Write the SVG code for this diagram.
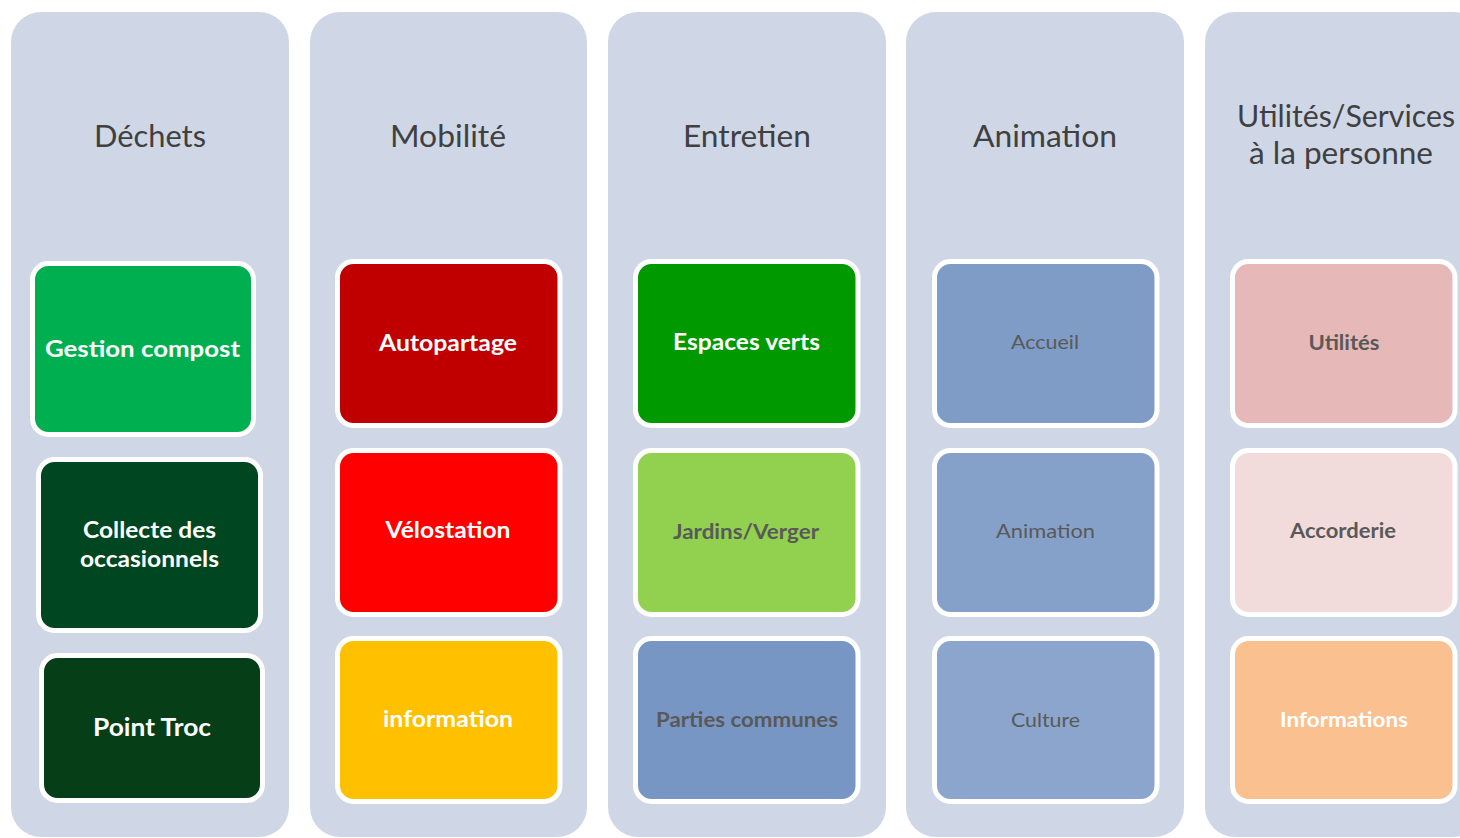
<svg xmlns="http://www.w3.org/2000/svg" width="1460" height="838" viewBox="0 0 1460 838">
<style>
.col{fill:#CFD7E7}
.box{stroke:#FFFFFF;stroke-width:5}
.hd{font-family:Lato,"Open Sans","Liberation Sans",sans-serif;font-size:31px;fill:#404040;text-anchor:middle}
.lb{font-family:Lato,"Open Sans","Liberation Sans",sans-serif;font-weight:bold;text-anchor:middle}
.lr{font-family:Lato,"Open Sans","Liberation Sans",sans-serif;font-weight:normal;text-anchor:middle;fill:#595959}
.w{fill:#FFFFFF}
.g{fill:#595959}
</style>
<rect width="1460" height="838" fill="#FFFFFF"/>
<g id="columns">
<g id="col-dechets"><rect class="col" x="11" y="12" width="278" height="825" rx="30"/><text class="hd" x="150" y="147" textLength="112" lengthAdjust="spacingAndGlyphs">Déchets</text></g>
<g id="col-mobilite"><rect class="col" x="310" y="12" width="277" height="825" rx="30"/><text class="hd" x="448" y="147" textLength="116" lengthAdjust="spacingAndGlyphs">Mobilité</text></g>
<g id="col-entretien"><rect class="col" x="608" y="12" width="278" height="825" rx="30"/><text class="hd" x="747" y="147" textLength="128" lengthAdjust="spacingAndGlyphs">Entretien</text></g>
<g id="col-animation"><rect class="col" x="906" y="12" width="278" height="825" rx="30"/><text class="hd" x="1045" y="147" textLength="144" lengthAdjust="spacingAndGlyphs">Animation</text></g>
<g id="col-utilites"><rect class="col" x="1205" y="12" width="278" height="825" rx="30"/><text class="hd" x="1346" y="127" font-size="30" textLength="218" lengthAdjust="spacingAndGlyphs">Utilités/Services</text><text class="hd" x="1341" y="164" font-size="30" textLength="184" lengthAdjust="spacingAndGlyphs">à la personne</text></g>
</g>
<g id="connectors"></g>
<g id="n-gestion"><rect class="box" x="32.5" y="263.5" width="221" height="171" rx="16" fill="#00B050"/><text class="lb w" x="142.5" y="357" font-size="23" textLength="195" lengthAdjust="spacingAndGlyphs">Gestion compost</text></g>
<g id="n-collecte"><rect class="box" x="38.5" y="459.5" width="222" height="171" rx="16" fill="#004620"/><text class="lb w" x="149.5" y="538" font-size="23" textLength="133" lengthAdjust="spacingAndGlyphs">Collecte des</text><text class="lb w" x="149.5" y="567" font-size="23" textLength="139" lengthAdjust="spacingAndGlyphs">occasionnels</text></g>
<g id="n-troc"><rect class="box" x="41.5" y="655.5" width="221" height="145" rx="16" fill="#053E17"/><text class="lb w" x="152" y="736" font-size="25" textLength="118" lengthAdjust="spacingAndGlyphs">Point Troc</text></g>
<g id="n-autopartage"><rect class="box" x="337.5" y="261.5" width="222.5" height="164" rx="16" fill="#C00000"/><text class="lb w" x="448" y="351" font-size="22" textLength="138" lengthAdjust="spacingAndGlyphs">Autopartage</text></g>
<g id="n-velostation"><rect class="box" x="337.5" y="450.5" width="222.5" height="164" rx="16" fill="#FF0000"/><text class="lb w" x="448" y="538" font-size="22" textLength="125" lengthAdjust="spacingAndGlyphs">Vélostation</text></g>
<g id="n-information"><rect class="box" x="337.5" y="638.5" width="222.5" height="163" rx="16" fill="#FFC000"/><text class="lb w" x="448" y="727" font-size="22" textLength="130" lengthAdjust="spacingAndGlyphs">information</text></g>
<g id="n-espaces"><rect class="box" x="635.5" y="261.5" width="222.5" height="164" rx="16" fill="#009900"/><text class="lb w" x="746.5" y="350" font-size="22" textLength="147" lengthAdjust="spacingAndGlyphs">Espaces verts</text></g>
<g id="n-jardins"><rect class="box" x="635.5" y="450.5" width="222.5" height="164" rx="16" fill="#92D050"/><text class="lb g" x="746" y="539" font-size="21" textLength="146" lengthAdjust="spacingAndGlyphs">Jardins/Verger</text></g>
<g id="n-parties"><rect class="box" x="635.5" y="638.5" width="222.5" height="163" rx="16" fill="#7896C4"/><text class="lb g" x="747" y="727" font-size="21" textLength="182" lengthAdjust="spacingAndGlyphs">Parties communes</text></g>
<g id="n-accueil"><rect class="box" x="934.5" y="261.5" width="222.5" height="164" rx="16" fill="#7F9CC6"/><text class="lr" x="1045" y="349" font-size="20" textLength="68" lengthAdjust="spacingAndGlyphs">Accueil</text></g>
<g id="n-animation"><rect class="box" x="934.5" y="450.5" width="222.5" height="164" rx="16" fill="#86A1C9"/><text class="lr" x="1045.5" y="538" font-size="20" textLength="99" lengthAdjust="spacingAndGlyphs">Animation</text></g>
<g id="n-culture"><rect class="box" x="934.5" y="638.5" width="222.5" height="163" rx="16" fill="#8CA5CC"/><text class="lr" x="1045.5" y="727" font-size="20" textLength="69" lengthAdjust="spacingAndGlyphs">Culture</text></g>
<g id="n-utilites"><rect class="box" x="1232.5" y="261.5" width="222.5" height="164" rx="16" fill="#E6B8B7"/><text class="lb g" x="1344" y="350" font-size="20" textLength="71" lengthAdjust="spacingAndGlyphs">Utilités</text></g>
<g id="n-accorderie"><rect class="box" x="1232.5" y="450.5" width="222.5" height="164" rx="16" fill="#F2DCDB"/><text class="lb g" x="1343" y="538" font-size="20" textLength="106" lengthAdjust="spacingAndGlyphs">Accorderie</text></g>
<g id="n-informations"><rect class="box" x="1232.5" y="638.5" width="222.5" height="163" rx="16" fill="#FAC090"/><text class="lb w" x="1344" y="727" font-size="20" textLength="128" lengthAdjust="spacingAndGlyphs">Informations</text></g>
</svg>
